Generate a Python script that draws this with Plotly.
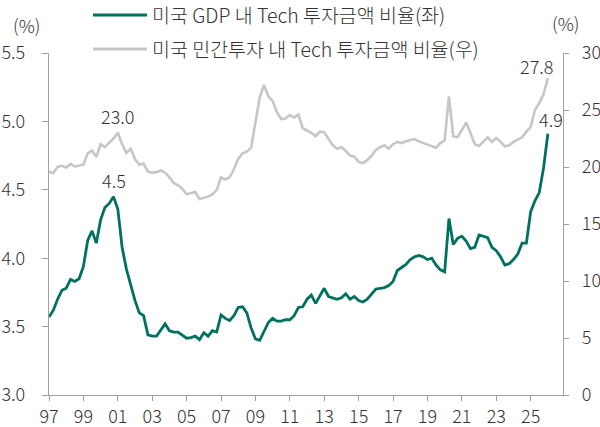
import plotly.graph_objects as go

start_year = 1997
gdp_share = [
    3.57, 3.62, 3.70, 3.765, 3.78, 3.845, 3.83, 3.85, 3.94, 4.13,
    4.20, 4.11, 4.28, 4.37, 4.40, 4.45, 4.36, 4.08, 3.92, 3.80,
    3.69, 3.60, 3.58, 3.44, 3.43, 3.43, 3.48, 3.52, 3.47, 3.46,
    3.46, 3.44, 3.415, 3.42, 3.43, 3.405, 3.455, 3.43, 3.47, 3.46,
    3.585, 3.56, 3.545, 3.58, 3.64, 3.645, 3.60, 3.49, 3.41, 3.40,
    3.46, 3.53, 3.56, 3.54, 3.54, 3.55, 3.55, 3.58, 3.64, 3.645,
    3.70, 3.73, 3.67, 3.72, 3.78, 3.72, 3.71, 3.70, 3.71, 3.74,
    3.70, 3.72, 3.69, 3.68, 3.70, 3.74, 3.775, 3.78, 3.785, 3.80,
    3.83, 3.91, 3.93, 3.955, 3.99, 4.01, 4.02, 4.01, 3.99, 4.00,
    3.95, 3.915, 3.90, 4.29, 4.10, 4.145, 4.16, 4.125, 4.07, 4.08,
    4.17, 4.16, 4.15, 4.08, 4.055, 4.01, 3.95, 3.96, 3.99, 4.03,
    4.11, 4.11, 4.34, 4.42, 4.48, 4.66, 4.91,
]
private_share = [
    19.6, 19.45, 20.0, 20.1, 19.95, 20.25, 20.05, 20.1, 20.2, 21.2,
    21.45, 20.9, 22.0, 21.75, 22.1, 22.5, 23.0, 22.0, 21.25, 21.6,
    20.7, 20.2, 20.3, 19.6, 19.5, 19.55, 19.7, 19.5, 19.1, 18.6,
    18.4, 18.1, 17.6, 17.7, 17.8, 17.2, 17.3, 17.4, 17.6, 18.0,
    19.1, 18.9, 19.1, 19.8, 20.7, 21.2, 21.35, 21.7, 23.9, 26.1,
    27.2, 26.2, 25.8, 24.8, 24.2, 24.25, 24.55, 24.35, 24.6, 23.4,
    23.2, 23.0, 22.7, 23.1, 23.05, 22.5, 21.9, 21.6, 21.75, 21.4,
    21.0, 20.9, 20.45, 20.35, 20.6, 21.0, 21.5, 21.75, 21.9, 21.6,
    22.0, 22.2, 22.1, 22.25, 22.35, 22.45, 22.25, 22.1, 21.95, 21.8,
    21.7, 22.1, 22.35, 26.2, 22.7, 22.6, 23.2, 23.9, 23.0, 22.0,
    21.85, 22.2, 22.6, 22.2, 22.55, 22.2, 21.8, 21.9, 22.2, 22.4,
    22.6, 23.1, 23.5, 25.0, 25.6, 26.4, 27.8,
]
x_vals = [start_year + i * 0.25 for i in range(len(gdp_share))]

tick_years = list(range(1997, 2026, 2))
tick_labels = [f"{y % 100:02d}" for y in tick_years]

name1 = "미국 GDP 내 Tech 투자금액 비율(좌)"
name2 = "미국 민간투자 내 Tech 투자금액 비율(우)"

GREEN = "#00705F"
GRAY = "#C6C6C6"
AXIS = "#A0A0A0"
TXT = "#333333"
FONT = "Noto Sans CJK KR"

fig = go.Figure()
fig.add_trace(go.Scatter(x=x_vals, y=private_share, name=name2, yaxis="y2",
                         mode="lines", line=dict(color=GRAY, width=2.6),
                         showlegend=False))
fig.add_trace(go.Scatter(x=x_vals, y=gdp_share, name=name1, yaxis="y",
                         mode="lines", line=dict(color=GREEN, width=2.8),
                         showlegend=False))

tickfont = dict(family=FONT, size=18, color=TXT, weight=300)

fig.update_layout(
    width=600, height=427,
    margin=dict(l=49, r=37, t=53, b=32),
    paper_bgcolor="white", plot_bgcolor="white",
    font=dict(family=FONT, color=TXT),
    xaxis=dict(range=[1997, 2026.88], tickmode="array", tickvals=tick_years,
               ticktext=tick_labels, showgrid=False, zeroline=False,
               showline=True, linecolor=AXIS, linewidth=1.3, automargin=False,
               ticks="outside", ticklen=5, tickcolor=AXIS, tickfont=tickfont),
    yaxis=dict(range=[3, 5.5], dtick=0.5, tick0=3, tickformat=".1f",
               showgrid=False, zeroline=False, showline=True, linecolor=AXIS,
               linewidth=1.3, ticks="outside", ticklen=6, tickcolor=AXIS,
               tickfont=tickfont, ticklabelstandoff=13, automargin=False),
    yaxis2=dict(range=[0, 30], dtick=5, tick0=0, overlaying="y", side="right",
                showgrid=False, zeroline=False, showline=True, linecolor=AXIS,
                linewidth=1.3, ticks="outside", ticklen=5, tickcolor=AXIS,
                tickfont=tickfont, ticklabelstandoff=9, automargin=False),
)

def px_x(x):
    return (x - 49) / 514

def px_y(y):
    return (395 - y) / 342

# manual legend
for yy, col, txt in [(15, GREEN, name1), (49, GRAY, name2)]:
    fig.add_shape(type="line", xref="paper", yref="paper",
                  x0=px_x(93), x1=px_x(147), y0=px_y(yy), y1=px_y(yy),
                  line=dict(color=col, width=2.8))
    fig.add_annotation(xref="paper", yref="paper", x=px_x(150), y=px_y(yy),
                       text=txt, showarrow=False, xanchor="left", yanchor="middle",
                       font=dict(family=FONT, size=19.5, color=TXT, weight=300))

# unit labels
fig.add_annotation(xref="paper", yref="paper", x=px_x(27), y=px_y(25), text="(%)",
                   showarrow=False, xanchor="center", yanchor="middle",
                   font=dict(family=FONT, size=18, color=TXT, weight=300))
fig.add_annotation(xref="paper", yref="paper", x=px_x(566), y=px_y(23), text="(%)",
                   showarrow=False, xanchor="center", yanchor="middle",
                   font=dict(family=FONT, size=18, color=TXT, weight=300))

lab_font = dict(family=FONT, size=18, color=TXT, weight=300)
i_peak2 = private_share.index(max(private_share[:30]))
i_peak1 = gdp_share.index(max(gdp_share[:30]))
fig.add_annotation(x=x_vals[i_peak2], y=private_share[i_peak2], yref="y2",
                   text=f"{private_share[i_peak2]:.1f}", showarrow=False,
                   yshift=17, font=lab_font)
fig.add_annotation(x=x_vals[i_peak1], y=gdp_share[i_peak1], yref="y",
                   text="4.5", showarrow=False, yshift=17, font=lab_font)
fig.add_annotation(x=x_vals[-1], y=private_share[-1], yref="y2",
                   text=f"{private_share[-1]:.1f}", showarrow=False,
                   xshift=-11, yshift=12, font=lab_font)
fig.add_annotation(x=x_vals[-1], y=gdp_share[-1], yref="y",
                   text=f"{gdp_share[-1]:.1f}", showarrow=False,
                   xshift=3, yshift=15, font=lab_font)

fig.write_html("out.html", config={"displayModeBar": False},
               post_script="document.body.style.margin='0px';document.body.style.padding='0px';")
